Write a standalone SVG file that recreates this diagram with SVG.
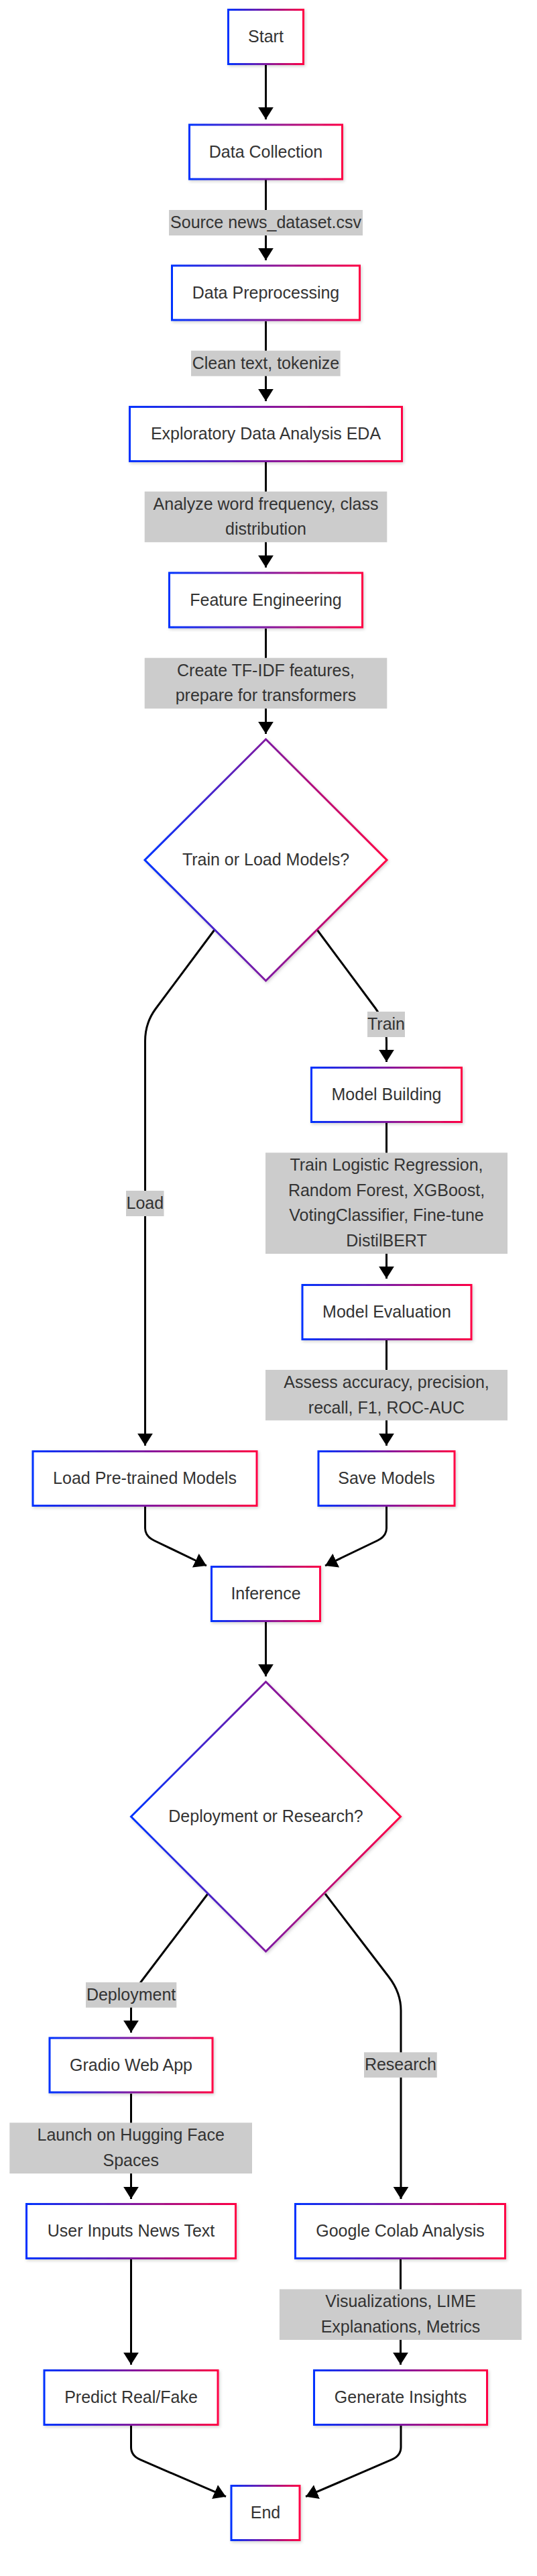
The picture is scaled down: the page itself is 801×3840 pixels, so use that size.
<svg xmlns="http://www.w3.org/2000/svg" width="801" height="3840" viewBox="0 0 801 3840">
<defs>
<linearGradient id="grad" x1="0" y1="0" x2="1" y2="0">
<stop offset="0" stop-color="#0033ff"/>
<stop offset="1" stop-color="#ff0044"/>
</linearGradient>
<filter id="shadow" x="-10%" y="-10%" width="130%" height="130%">
<feDropShadow dx="1.5" dy="2" stdDeviation="2" flood-color="#000" flood-opacity="0.18"/>
</filter>
<marker id="arrow" markerUnits="userSpaceOnUse" markerWidth="20" markerHeight="24" refX="18" refY="11.35" orient="auto">
<path d="M0,0 L18,11.35 L0,22.7 z" fill="#000"/>
</marker>
<style>
.node rect, .node polygon { fill: #ffffff; stroke: url(#grad); stroke-width: 3; filter: url(#shadow); }
.node text { font-family: "Liberation Sans", Arial, sans-serif; font-size: 25px; fill: #333333; text-anchor: middle; }
.edges path { fill: none; stroke: #000; stroke-width: 3; marker-end: url(#arrow); }
.lbl rect { fill: #cccccc; }
.lbl text { font-family: "Liberation Sans", Arial, sans-serif; font-size: 25px; fill: #333333; text-anchor: middle; }
</style>
</defs>
<rect x="0" y="0" width="801" height="3840" fill="#ffffff"/>

<g id="connectors" class="edges">
<path d="M396.5,96 L396.5,178"/>
<path d="M396.5,268 L396.5,388"/>
<path d="M396.5,479 L396.5,598"/>
<path d="M396.5,689 L396.5,846"/>
<path d="M396.5,937 L396.5,1094"/>
<path d="M473,1386 L560,1503 Q576.5,1526 576.5,1552 L576.5,1583"/>
<path d="M320,1386 L232,1504 Q216.5,1525 216.5,1552 L216.5,2155"/>
<path d="M576.5,1673 L576.5,1906"/>
<path d="M576.5,1997 L576.5,2155"/>
<path d="M216.5,2245 L216.5,2278 Q216.5,2290 230,2296.5 L308,2334"/>
<path d="M576.5,2245 L576.5,2278 Q576.5,2290 563,2296.5 L485,2334"/>
<path d="M396.5,2416 L396.5,2499"/>
<path d="M310,2823 L212,2952 Q195.5,2974 195.5,2995 L195.5,3030"/>
<path d="M485,2823 L580,2947 Q598,2970.5 598,2997 L598,3278"/>
<path d="M195.5,3121 L195.5,3278"/>
<path d="M597.5,3368 L597.5,3525"/>
<path d="M195.5,3368 L195.5,3525"/>
<path d="M195.5,3616 L195.5,3648 Q195.5,3660.7 209.4,3666.7 L337,3721.7"/>
<path d="M598,3616 L598,3648 Q598,3660.7 584,3666.7 L456,3721.7"/>
</g>

<g id="edge-labels">
<g class="lbl" id="lbl-source"><rect x="252" y="313" width="289" height="38"/><text x="396.5" y="340">Source news_dataset.csv</text></g>
<g class="lbl" id="lbl-clean"><rect x="285" y="522.7" width="222.7" height="38"/><text x="396.5" y="549.7">Clean text, tokenize</text></g>
<g class="lbl" id="lbl-analyze"><rect x="215.7" y="732.7" width="361.6" height="75.6"/><text x="396.5" y="759.6">Analyze word frequency, class</text><text x="396.5" y="797.4">distribution</text></g>
<g class="lbl" id="lbl-create"><rect x="215.7" y="980.7" width="361.6" height="75.6"/><text x="396.5" y="1007.6">Create TF-IDF features,</text><text x="396.5" y="1045.4">prepare for transformers</text></g>
<g class="lbl" id="lbl-train"><rect x="548" y="1508" width="56" height="38"/><text x="576" y="1535">Train</text></g>
<g class="lbl" id="lbl-load"><rect x="188" y="1775" width="56.5" height="38"/><text x="216.3" y="1802">Load</text></g>
<g class="lbl" id="lbl-trainlr"><rect x="396" y="1718.3" width="361" height="150.7"/><text x="576.5" y="1745">Train Logistic Regression,</text><text x="576.5" y="1782.7">Random Forest, XGBoost,</text><text x="576.5" y="1820.4">VotingClassifier, Fine-tune</text><text x="576.5" y="1858.1">DistilBERT</text></g>
<g class="lbl" id="lbl-assess"><rect x="396" y="2042" width="361" height="75.4"/><text x="576.5" y="2069">Assess accuracy, precision,</text><text x="576.5" y="2106.7">recall, F1, ROC-AUC</text></g>
<g class="lbl" id="lbl-deploy"><rect x="128" y="2955" width="135.3" height="37.7"/><text x="195.6" y="2981.8">Deployment</text></g>
<g class="lbl" id="lbl-research"><rect x="543" y="3059.3" width="108.8" height="37.7"/><text x="597.4" y="3086.1">Research</text></g>
<g class="lbl" id="lbl-launch"><rect x="14.3" y="3164.3" width="361.7" height="75.7"/><text x="195.2" y="3191.2">Launch on Hugging Face</text><text x="195.2" y="3229">Spaces</text></g>
<g class="lbl" id="lbl-vis"><rect x="416.9" y="3412.5" width="361.1" height="75.5"/><text x="597.5" y="3439.3">Visualizations, LIME</text><text x="597.5" y="3477">Explanations, Metrics</text></g>
</g>

<g id="start" class="node"><rect x="340.5" y="14.5" width="112" height="81"/><text x="396.5" y="63">Start</text></g>
<g id="data-collection" class="node"><rect x="282.5" y="186" width="228" height="81"/><text x="396.5" y="234.5">Data Collection</text></g>
<g id="data-preprocessing" class="node"><rect x="256.5" y="396" width="280" height="81"/><text x="396.5" y="444.5">Data Preprocessing</text></g>
<g id="eda" class="node"><rect x="193.5" y="606.5" width="406" height="81"/><text x="396.5" y="655">Exploratory Data Analysis EDA</text></g>
<g id="feature-engineering" class="node"><rect x="252.5" y="854" width="288" height="81"/><text x="396.5" y="902.5">Feature Engineering</text></g>
<g id="train-or-load" class="node"><polygon points="396.5,1102 577,1282 396.5,1462 216,1282"/><text x="396.5" y="1290">Train or Load Models?</text></g>
<g id="model-building" class="node"><rect x="464.5" y="1591.5" width="224" height="81"/><text x="576.5" y="1640">Model Building</text></g>
<g id="model-evaluation" class="node"><rect x="451" y="1915.5" width="252" height="81"/><text x="577" y="1964">Model Evaluation</text></g>
<g id="load-models" class="node"><rect x="49" y="2163.5" width="334" height="81"/><text x="216" y="2212">Load Pre-trained Models</text></g>
<g id="save-models" class="node"><rect x="475" y="2163.5" width="203" height="81"/><text x="576.5" y="2212">Save Models</text></g>
<g id="inference" class="node"><rect x="315.5" y="2335.5" width="162" height="81"/><text x="396.5" y="2384">Inference</text></g>
<g id="deploy-or-research" class="node"><polygon points="396.5,2507 597.5,2708 396.5,2909 195.5,2708"/><text x="396.5" y="2716">Deployment or Research?</text></g>
<g id="gradio" class="node"><rect x="74" y="3038" width="243" height="81"/><text x="195.5" y="3086.5">Gradio Web App</text></g>
<g id="user-inputs" class="node"><rect x="39.5" y="3285.5" width="312" height="81"/><text x="195.5" y="3334">User Inputs News Text</text></g>
<g id="colab" class="node"><rect x="440.5" y="3285.5" width="313" height="81"/><text x="597" y="3334">Google Colab Analysis</text></g>
<g id="predict" class="node"><rect x="66" y="3533.5" width="259" height="81"/><text x="195.5" y="3582">Predict Real/Fake</text></g>
<g id="insights" class="node"><rect x="468.5" y="3533.5" width="258" height="81"/><text x="597.5" y="3582">Generate Insights</text></g>
<g id="end" class="node"><rect x="345" y="3705.5" width="102" height="81"/><text x="396" y="3754">End</text></g>
</svg>
